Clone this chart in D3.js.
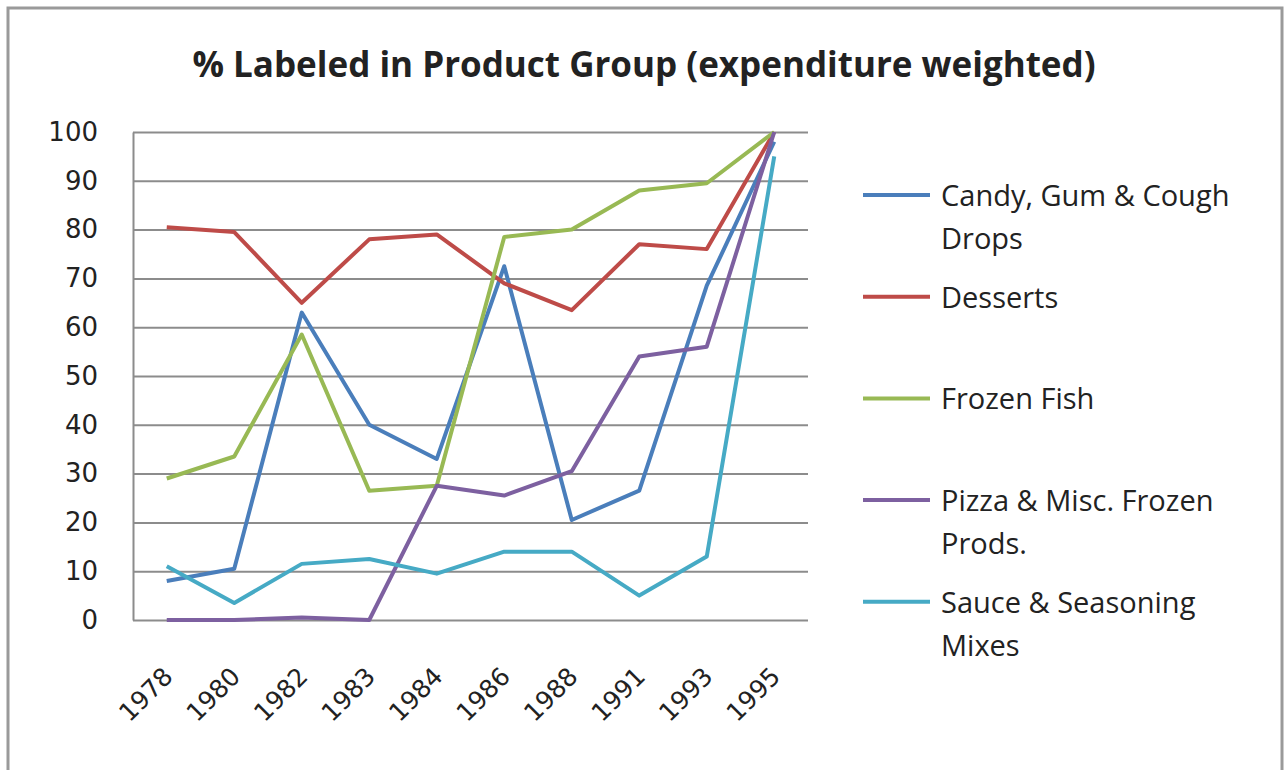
<!DOCTYPE html>
<html>
<head>
<meta charset="utf-8">
<script src="https://cdn.jsdelivr.net/npm/d3@7"></script>
<style>
  body { margin: 0; background: #fff; }
  text { fill: #222; }
</style>
</head>
<body>
<div id="chart"></div>
<script>
// data
let years = ["1978", "1980", "1982", "1983", "1984", "1986", "1988", "1991", "1993", "1995"];
let seriesNames = ["Candy, Gum & Cough Drops", "Desserts", "Frozen Fish", "Pizza & Misc. Frozen Prods.", "Sauce & Seasoning Mixes"];
let candy   = [8, 10.5, 63, 40, 33, 72.5, 20.5, 26.5, 68.5, 98];
let desserts = [80.5, 79.5, 65, 78, 79, 69, 63.5, 77, 76, 100];
let frozenFish = [29, 33.5, 58.5, 26.5, 27.5, 78.5, 80, 88, 89.5, 100];
let pizza   = [0, 0, 0.5, 0, 27.5, 25.5, 30.5, 54, 56, 100];
let sauce   = [11, 3.5, 11.5, 12.5, 9.5, 14, 14, 5, 13, 95];
let yTicks = [0, 10, 20, 30, 40, 50, 60, 70, 80, 90, 100];
let colors = ["#4a7ebb", "#be4b48", "#98b954", "#7d60a0", "#46aac5"];

let series = [candy, desserts, frozenFish, pizza, sauce];

let svgWidth = 1284;
let svgHeight = 770;

let margin = { top: 132, right: 476, bottom: 150, left: 133 };
let width = svgWidth - margin.left - margin.right;
let height = svgHeight - margin.top - margin.bottom;

let svg = d3.select("#chart")
    .append("svg")
    .attr("width", svgWidth)
    .attr("height", svgHeight);

// outer frame
svg.append("rect")
    .attr("x", 8)
    .attr("y", 8)
    .attr("width", 1274)
    .attr("height", 775)
    .attr("fill", "none")
    .attr("stroke", "#9a9a9a")
    .attr("stroke-width", 3);

svg.append("text")
    .attr("x", 644)
    .attr("y", 77)
    .attr("text-anchor", "middle")
    .attr("font-family", "Open Sans")
    .attr("font-weight", "bold")
    .attr("font-size", "35px")
    .text("% Labeled in Product Group (expenditure weighted)");

let chartGroup = svg.append("g")
    .attr("transform", `translate(${margin.left}, ${margin.top})`);

let xScale = d3.scalePoint()
    .domain(years)
    .range([0, width])
    .padding(0.5);

let yScale = d3.scaleLinear()
    .domain([0, 100])
    .range([height, 0]);

// gridlines
chartGroup.append("g")
    .call(d3.axisLeft(yScale).tickValues(yTicks).tickSize(-width).tickFormat(""))
    .call(g => g.select(".domain").remove())
    .selectAll("line")
    .attr("stroke", "#8c8c8c")
    .attr("stroke-width", 2);

// y axis
let leftAxis = chartGroup.append("g")
    .call(d3.axisLeft(yScale).tickValues(yTicks).tickSize(0).tickPadding(35));
leftAxis.select(".domain").attr("stroke", "#8c8c8c").attr("stroke-width", 2);
leftAxis.selectAll("text")
    .attr("font-family", "DejaVu Sans")
    .attr("font-size", "26px")
    .attr("fill", "#222");

// x axis
let bottomAxis = chartGroup.append("g")
    .attr("transform", `translate(0, ${height})`)
    .call(d3.axisBottom(xScale).tickSize(0));
bottomAxis.select(".domain").remove();
bottomAxis.selectAll("text")
    .attr("font-family", "DejaVu Sans")
    .attr("font-size", "25px")
    .attr("fill", "#222")
    .attr("text-anchor", "end")
    .attr("dy", "0")
    .attr("transform", "translate(5, 56) rotate(-45)");

let line = d3.line()
    .x((d, i) => xScale(years[i]))
    .y(d => yScale(d));

chartGroup.selectAll(".series")
    .data(series)
    .enter()
    .append("path")
    .attr("class", "series")
    .attr("d", d => line(d))
    .attr("fill", "none")
    .attr("stroke", (d, i) => colors[i])
    .attr("stroke-width", 4)
    .attr("stroke-linejoin", "round");

// legend
let legendLines = [
    ["Candy, Gum & Cough", "Drops"],
    ["Desserts"],
    ["Frozen Fish"],
    ["Pizza & Misc. Frozen", "Prods."],
    ["Sauce & Seasoning", "Mixes"]
];

let legend = svg.append("g")
    .attr("transform", "translate(863, 195)");

let item = legend.selectAll(".item")
    .data(seriesNames)
    .enter()
    .append("g")
    .attr("class", "item")
    .attr("transform", (d, i) => `translate(0, ${i * 101.7})`);

item.append("line")
    .attr("x1", 0)
    .attr("x2", 67)
    .attr("stroke", (d, i) => colors[i])
    .attr("stroke-width", 4);

item.append("text")
    .attr("x", 78)
    .attr("y", 11)
    .attr("font-family", "Open Sans")
    .attr("font-size", "29px")
    .selectAll("tspan")
    .data((d, i) => legendLines[i])
    .enter()
    .append("tspan")
    .attr("x", 78)
    .attr("dy", (d, j) => j === 0 ? 0 : 43)
    .text(d => d);
</script>
</body>
</html>
